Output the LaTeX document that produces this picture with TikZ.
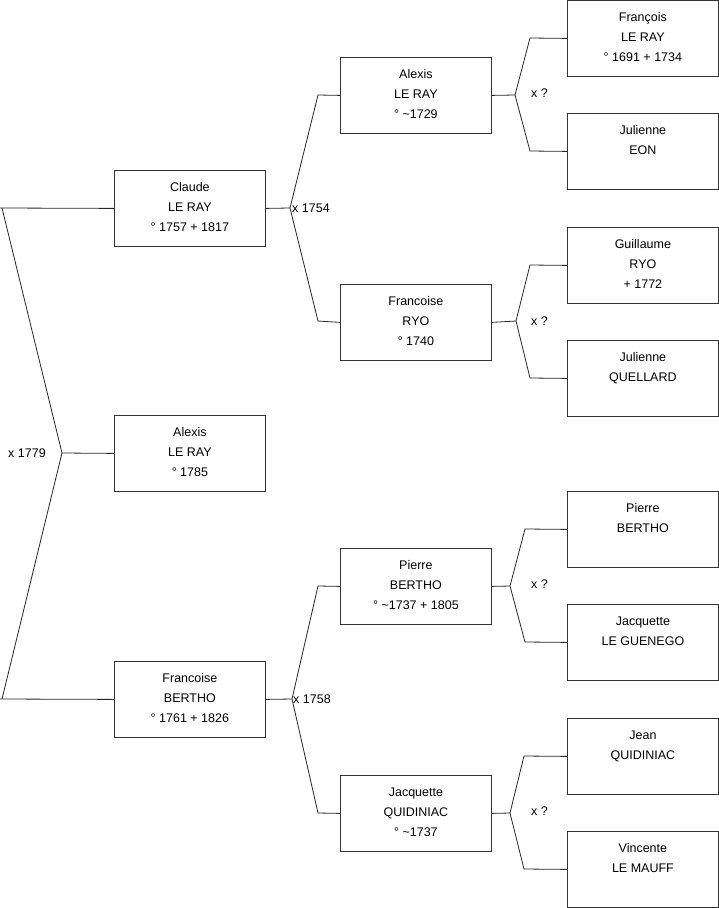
\documentclass[tikz,border=0pt]{standalone}
\usepackage{fontspec}
\setmainfont{Liberation Sans}
\begin{document}
\begin{tikzpicture}[x=1pt,y=-1pt,
  person/.style={draw=black!80, line width=0.8pt, minimum width=151pt, minimum height=76pt,
    inner sep=0pt, align=center, font=\fontsize{12.5}{20}\selectfont, anchor=north west, text depth=2pt},
  conn/.style={draw=black!85, line width=0.8pt},
  lbl/.style={font=\fontsize{12.5}{14}\selectfont, anchor=west, inner sep=0pt}]
\useasboundingbox (0,0) rectangle (719,908);
% generation 1
\node[person] (claude) at (114,170) {Claude\\LE RAY\\° 1757 + 1817};
\node[person] (alexis0) at (114,415) {Alexis\\LE RAY\\° 1785};
\node[person] (francoiseB) at (114,661) {Francoise\\BERTHO\\° 1761 + 1826};
% generation 2
\node[person] (alexis) at (340,57) {Alexis\\LE RAY\\° \textasciitilde1729};
\node[person] (francoiseR) at (340,284) {Francoise\\RYO\\° 1740};
\node[person] (pierre) at (340,548) {Pierre\\BERTHO\\° \textasciitilde1737 + 1805};
\node[person] (jacquette) at (340,775) {Jacquette\\QUIDINIAC\\° \textasciitilde1737};
% generation 3
\node[person] (francois) at (567,0) {François\\LE RAY\\° 1691 + 1734};
\node[person] (julienneE) at (567,113) {Julienne\\EON\\\strut};
\node[person] (guillaume) at (567,227) {Guillaume\\RYO\\+ 1772};
\node[person] (julienneQ) at (567,340) {Julienne\\QUELLARD\\\strut};
\node[person] (pierreB) at (567,491) {Pierre\\BERTHO\\\strut};
\node[person] (jacquetteG) at (567,604) {Jacquette\\LE GUENEGO\\\strut};
\node[person] (jean) at (567,718) {Jean\\QUIDINIAC\\\strut};
\node[person] (vincente) at (567,831) {Vincente\\LE MAUFF\\\strut};

% junction points
\coordinate (j0) at (62,453);
\coordinate (j0a) at (2,208);
\coordinate (j0b) at (2,699);
\coordinate (j1) at (290,208);
\coordinate (j1a) at (318,95);
\coordinate (j1b) at (318,321);
\coordinate (j2) at (292,699);
\coordinate (j2a) at (318,586);
\coordinate (j2b) at (318,813);
\coordinate (k1) at (515,95);
\coordinate (k1a) at (530,38);
\coordinate (k1b) at (530,151);
\coordinate (k2) at (516,321);
\coordinate (k2a) at (530,265);
\coordinate (k2b) at (530,378);
\coordinate (k3) at (510,586);
\coordinate (k3a) at (525,529);
\coordinate (k3b) at (525,642);
\coordinate (k4) at (510,813);
\coordinate (k4a) at (524,756);
\coordinate (k4b) at (524,869);

% connectors
\draw[conn] (alexis0.west) -- (j0);
\draw[conn] (claude.west) -- (0,208) (j0a) -- (j0) -- (j0b) (0,699) -- (francoiseB.west);
\draw[conn] (claude.east) -- (j1);
\draw[conn] (alexis.west) -- (j1a) -- (j1) -- (j1b) -- (francoiseR.west);
\draw[conn] (francoiseB.east) -- (j2);
\draw[conn] (pierre.west) -- (j2a) -- (j2) -- (j2b) -- (jacquette.west);
\draw[conn] (alexis.east) -- (k1);
\draw[conn] (francois.west) -- (k1a) -- (k1) -- (k1b) -- (julienneE.west);
\draw[conn] (francoiseR.east) -- (k2);
\draw[conn] (guillaume.west) -- (k2a) -- (k2) -- (k2b) -- (julienneQ.west);
\draw[conn] (pierre.east) -- (k3);
\draw[conn] (pierreB.west) -- (k3a) -- (k3) -- (k3b) -- (jacquetteG.west);
\draw[conn] (jacquette.east) -- (k4);
\draw[conn] (jean.west) -- (k4a) -- (k4) -- (k4b) -- (vincente.west);

% labels
\node[lbl] (m0) at (8,453) {x 1779};
\node[lbl] (m1) at (292,208) {x 1754};
\node[lbl] (m2) at (293,699) {x 1758};
\node[lbl] (m3) at (531,93) {x ?};
\node[lbl] (m4) at (531,321) {x ?};
\node[lbl] (m5) at (531,584) {x ?};
\node[lbl] (m6) at (531,811) {x ?};
\end{tikzpicture}
\end{document}
